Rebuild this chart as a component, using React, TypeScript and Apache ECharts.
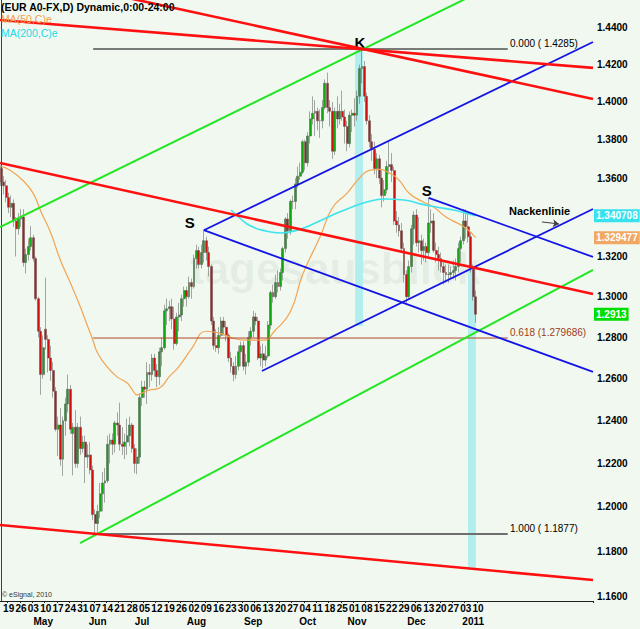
import React, { useEffect, useRef } from "react";
import * as echarts from "echarts";

// ---------- data ----------
const FIRST_DAY = "2010-04-14"; // first trading day shown
const AXIS_DAYS = 240; // trading-day slots on the time axis (data + empty future)

// daily candles [open, close, low, high], one per trading day from FIRST_DAY
const CANDLES: number[][] = [
  [1.3650, 1.3580, 1.3560, 1.3665], [1.3580, 1.3560, 1.3515, 1.3610], [1.3560, 1.3500, 1.3475, 1.3590],
  [1.3500, 1.3450, 1.3420, 1.3525], [1.3450, 1.3470, 1.3400, 1.3510], [1.3470, 1.3380, 1.3350, 1.3490], [1.3380, 1.3340, 1.3200, 1.3400], [1.3340, 1.3390, 1.3310, 1.3420],
  [1.3390, 1.3400, 1.3350, 1.3440], [1.3400, 1.3170, 1.3150, 1.3440], [1.3170, 1.3210, 1.3115, 1.3240], [1.3210, 1.3250, 1.3180, 1.3290], [1.3250, 1.3295, 1.3230, 1.3355],
  [1.3295, 1.3190, 1.3175, 1.3310], [1.3190, 1.2990, 1.2980, 1.3200], [1.2990, 1.2830, 1.2800, 1.3000], [1.2830, 1.2620, 1.2523, 1.2850], [1.2620, 1.2750, 1.2600, 1.2810],
  [1.2840, 1.2790, 1.2740, 1.3094], [1.2790, 1.2700, 1.2630, 1.2810], [1.2700, 1.2640, 1.2590, 1.2760], [1.2640, 1.2540, 1.2510, 1.2680], [1.2540, 1.2360, 1.2350, 1.2560],
  [1.2360, 1.2380, 1.2235, 1.2420], [1.2380, 1.2220, 1.2190, 1.2460], [1.2220, 1.2400, 1.2143, 1.2420], [1.2400, 1.2480, 1.2330, 1.2510], [1.2480, 1.2550, 1.2440, 1.2620],
  [1.2550, 1.2360, 1.2340, 1.2570], [1.2340, 1.2370, 1.2145, 1.2390], [1.2370, 1.2200, 1.2180, 1.2450], [1.2200, 1.2370, 1.2180, 1.2390], [1.2370, 1.2270, 1.2240, 1.2420],
  [1.2270, 1.2300, 1.2250, 1.2330], [1.2300, 1.2230, 1.2110, 1.2330], [1.2230, 1.2240, 1.2180, 1.2290], [1.2240, 1.2170, 1.2150, 1.2300], [1.2170, 1.1965, 1.1940, 1.2190],
  [1.1965, 1.1925, 1.1876, 1.1990], [1.1925, 1.1980, 1.1880, 1.2010], [1.1980, 1.2060, 1.1950, 1.2110], [1.2060, 1.2110, 1.1980, 1.2160], [1.2110, 1.2120, 1.2020, 1.2180],
  [1.2120, 1.2290, 1.2110, 1.2330], [1.2290, 1.2310, 1.2200, 1.2340], [1.2310, 1.2290, 1.2240, 1.2340], [1.2290, 1.2390, 1.2250, 1.2400], [1.2390, 1.2380, 1.2330, 1.2440],
  [1.2380, 1.2290, 1.2260, 1.2486], [1.2290, 1.2280, 1.2240, 1.2370], [1.2280, 1.2300, 1.2220, 1.2340], [1.2300, 1.2330, 1.2240, 1.2410], [1.2330, 1.2380, 1.2280, 1.2420],
  [1.2380, 1.2270, 1.2250, 1.2390], [1.2270, 1.2200, 1.2155, 1.2290], [1.2200, 1.2230, 1.2150, 1.2270], [1.2230, 1.2510, 1.2200, 1.2530], [1.2510, 1.2560, 1.2470, 1.2590],
  [1.2560, 1.2550, 1.2510, 1.2590], [1.2550, 1.2630, 1.2480, 1.2680], [1.2630, 1.2620, 1.2560, 1.2670], [1.2620, 1.2700, 1.2590, 1.2720], [1.2700, 1.2640, 1.2610, 1.2720],
  [1.2640, 1.2610, 1.2560, 1.2670], [1.2610, 1.2730, 1.2570, 1.2750], [1.2730, 1.2750, 1.2660, 1.2800], [1.2750, 1.2930, 1.2740, 1.2960], [1.2930, 1.2940, 1.2860, 1.2990],
  [1.2940, 1.2950, 1.2880, 1.2980], [1.2950, 1.2890, 1.2840, 1.2990], [1.2890, 1.2770, 1.2740, 1.2950], [1.2770, 1.2900, 1.2760, 1.2920], [1.2900, 1.2910, 1.2830, 1.2970],
  [1.2910, 1.2990, 1.2880, 1.3010], [1.2990, 1.3030, 1.2950, 1.3050], [1.3030, 1.3000, 1.2950, 1.3050], [1.3000, 1.3070, 1.2990, 1.3100], [1.3070, 1.3050, 1.2990, 1.3090],
  [1.3050, 1.3190, 1.3040, 1.3210], [1.3190, 1.3230, 1.3140, 1.3260], [1.3230, 1.3160, 1.3140, 1.3250], [1.3160, 1.3220, 1.3140, 1.3260], [1.3220, 1.3280, 1.3170, 1.3333],
  [1.3280, 1.3220, 1.3180, 1.3300], [1.3220, 1.3150, 1.3100, 1.3250], [1.3150, 1.2880, 1.2860, 1.3160], [1.2880, 1.2760, 1.2740, 1.2900], [1.2760, 1.2750, 1.2730, 1.2840],
  [1.2750, 1.2810, 1.2720, 1.2850], [1.2810, 1.2880, 1.2800, 1.2900], [1.2880, 1.2850, 1.2810, 1.2900], [1.2850, 1.2810, 1.2780, 1.2880], [1.2810, 1.2700, 1.2680, 1.2820],
  [1.2700, 1.2660, 1.2630, 1.2730], [1.2660, 1.2620, 1.2588, 1.2680], [1.2620, 1.2660, 1.2600, 1.2710], [1.2660, 1.2730, 1.2640, 1.2760], [1.2730, 1.2760, 1.2660, 1.2780],
  [1.2760, 1.2660, 1.2640, 1.2780], [1.2660, 1.2680, 1.2620, 1.2720], [1.2680, 1.2800, 1.2660, 1.2830], [1.2800, 1.2830, 1.2760, 1.2850], [1.2830, 1.2900, 1.2800, 1.2930],
  [1.2900, 1.2880, 1.2860, 1.2920], [1.2880, 1.2700, 1.2690, 1.2900], [1.2700, 1.2720, 1.2660, 1.2760], [1.2720, 1.2690, 1.2650, 1.2770], [1.2690, 1.2710, 1.2660, 1.2760],
  [1.2710, 1.2860, 1.2700, 1.2880], [1.2860, 1.3020, 1.2840, 1.3030], [1.3020, 1.3000, 1.2970, 1.3060], [1.3000, 1.3070, 1.2990, 1.3110], [1.3070, 1.3050, 1.3020, 1.3130],
  [1.3050, 1.3120, 1.3030, 1.3140], [1.3120, 1.3240, 1.3080, 1.3250], [1.3240, 1.3390, 1.3220, 1.3400], [1.3390, 1.3330, 1.3290, 1.3420], [1.3330, 1.3480, 1.3310, 1.3490],
  [1.3480, 1.3480, 1.3440, 1.3510], [1.3480, 1.3570, 1.3440, 1.3600], [1.3570, 1.3610, 1.3550, 1.3660], [1.3610, 1.3630, 1.3590, 1.3680], [1.3630, 1.3790, 1.3620, 1.3800],
  [1.3790, 1.3680, 1.3640, 1.3800], [1.3680, 1.3820, 1.3660, 1.3840], [1.3820, 1.3910, 1.3780, 1.3950], [1.3910, 1.3940, 1.3880, 1.4030], [1.3940, 1.3950, 1.3820, 1.4010],
  [1.3950, 1.3900, 1.3850, 1.3970], [1.3900, 1.3900, 1.3810, 1.3960], [1.3900, 1.3970, 1.3860, 1.4010], [1.3970, 1.4100, 1.3960, 1.4120], [1.4100, 1.3970, 1.3940, 1.4157],
  [1.3970, 1.3950, 1.3870, 1.4010], [1.3950, 1.3740, 1.3700, 1.4000], [1.3740, 1.3950, 1.3720, 1.3970], [1.3950, 1.3910, 1.3860, 1.4030], [1.3910, 1.3950, 1.3880, 1.3990],
  [1.3950, 1.3920, 1.3900, 1.4060], [1.3920, 1.3870, 1.3780, 1.3960], [1.3870, 1.3780, 1.3740, 1.3900], [1.3780, 1.3930, 1.3760, 1.3950], [1.3930, 1.3940, 1.3840, 1.3960],
  [1.3940, 1.3930, 1.3870, 1.4020], [1.3930, 1.4030, 1.3900, 1.4060], [1.4030, 1.4180, 1.3990, 1.4200], [1.4180, 1.4190, 1.4100, 1.4282], [1.4190, 1.4030, 1.4000, 1.4220],
  [1.4030, 1.3900, 1.3880, 1.4050], [1.3900, 1.3790, 1.3760, 1.3930], [1.3790, 1.3750, 1.3690, 1.3830], [1.3750, 1.3650, 1.3620, 1.3790], [1.3650, 1.3700, 1.3600, 1.3730],
  [1.3700, 1.3600, 1.3570, 1.3720], [1.3600, 1.3510, 1.3450, 1.3640], [1.3510, 1.3540, 1.3480, 1.3590], [1.3540, 1.3660, 1.3520, 1.3690], [1.3660, 1.3670, 1.3620, 1.3790],
  [1.3670, 1.3640, 1.3580, 1.3730], [1.3640, 1.3380, 1.3360, 1.3660], [1.3380, 1.3360, 1.3320, 1.3430], [1.3360, 1.3330, 1.3300, 1.3400], [1.3330, 1.3240, 1.3220, 1.3370],
  [1.3240, 1.3110, 1.3070, 1.3270], [1.3110, 1.3000, 1.2969, 1.3130], [1.3000, 1.3150, 1.2990, 1.3180], [1.3150, 1.3340, 1.3120, 1.3360], [1.3340, 1.3410, 1.3260, 1.3430],
  [1.3410, 1.3270, 1.3250, 1.3440], [1.3270, 1.3280, 1.3220, 1.3400], [1.3280, 1.3230, 1.3160, 1.3310], [1.3230, 1.3250, 1.3180, 1.3290], [1.3250, 1.3220, 1.3170, 1.3270],
  [1.3220, 1.3370, 1.3200, 1.3498], [1.3370, 1.3380, 1.3320, 1.3440], [1.3380, 1.3230, 1.3220, 1.3420], [1.3230, 1.3210, 1.3170, 1.3270], [1.3210, 1.3190, 1.3130, 1.3250],
  [1.3190, 1.3150, 1.3120, 1.3220], [1.3150, 1.3120, 1.3060, 1.3170], [1.3120, 1.3110, 1.3070, 1.3160], [1.3110, 1.3110, 1.3070, 1.3160], [1.3110, 1.3120, 1.3090, 1.3150],
  [1.3120, 1.3130, 1.3090, 1.3180], [1.3130, 1.3150, 1.3080, 1.3190], [1.3150, 1.3240, 1.3120, 1.3270], [1.3240, 1.3280, 1.3170, 1.3300], [1.3280, 1.3380, 1.3260, 1.3440],
  [1.3380, 1.3350, 1.3290, 1.3440], [1.3350, 1.3300, 1.3270, 1.3420], [1.3300, 1.3140, 1.3120, 1.3320], [1.3140, 1.3000, 1.2980, 1.3160], [1.3000, 1.2913, 1.2872, 1.3030],
];

// moving averages: [trading-day index, value]
const MA50: number[][] = [
  [0, 1.3660], [3, 1.3645], [9, 1.3585], [13, 1.3520], [16, 1.3430], [20, 1.3320], [24, 1.3180],
  [28, 1.3068], [32, 1.2950], [35, 1.2853], [37, 1.2790], [39, 1.2724], [43, 1.2655], [47, 1.2608],
  [51, 1.2580], [53, 1.2548], [55, 1.2523], [57, 1.2532], [60, 1.2546], [64, 1.2556], [68, 1.2610],
  [72, 1.2660], [77, 1.2744], [83, 1.2830], [88, 1.2822], [94, 1.2795], [99, 1.2787], [106, 1.2787],
  [111, 1.2836], [117, 1.2925], [122, 1.3110], [129, 1.3298], [134, 1.3446], [140, 1.3523],
  [145, 1.3600], [149, 1.3640], [153, 1.3645], [157, 1.3627], [161, 1.3590], [165, 1.3523],
  [170, 1.3482], [175, 1.3451], [180, 1.3400], [186, 1.3360], [189, 1.3334], [192, 1.329477],
];
const MA200: number[][] = [
  [93, 1.3436], [97, 1.3390], [101, 1.3354], [107, 1.3329], [113, 1.3319], [120, 1.3334],
  [128, 1.3375], [135, 1.3416], [141, 1.3446], [148, 1.3477], [155, 1.3492], [163, 1.3487],
  [170, 1.3466], [176, 1.3451], [183, 1.3436], [188, 1.3420], [192, 1.340708],
];

// hand-drawn trend lines: [[day index, price], [day index, price]]
const RED_LINES: number[][][] = [
  [[-0.5, 1.4444], [239.5, 1.4183]],
  [[40, 1.4599], [239.5, 1.4016]],
  [[-0.5, 1.3679], [239.5, 1.3013]],
  [[-0.5, 1.1918], [239.5, 1.1671]],
];
const GREEN_LINES: number[][][] = [
  [[-0.5, 1.3349], [239.5, 1.4911]],
  [[31.9, 1.1836], [239.5, 1.3133]],
];
const BLUE_LINES: number[][][] = [
  [[82, 1.3333], [239.5, 1.4323]],
  [[82, 1.3333], [239.5, 1.2633]],
  [[105.5, 1.2637], [239.5, 1.3441]],
  [[173, 1.3498], [239.5, 1.3198]],
];

// Fibonacci retracement
const FIB_PRICES = [1.4285, 1.279686, 1.1877];
const FIB_LABELS = ["0.000 ( 1.4285)", "0.618 (1.279686)", "1.000 ( 1.1877)"];
const FIB_SPAN = [37.2, 205];

// highlighted time bands: [day from, price top, day to, price bottom]
const BANDS: number[][] = [
  [143.2, 1.4282, 146.4, 1.2856],
  [188.9, 1.3133, 192.1, 1.1722],
];

const Y_TICKS = [1.44, 1.42, 1.4, 1.38, 1.36, 1.32, 1.3, 1.28, 1.26, 1.24, 1.22, 1.2, 1.18, 1.16];
const Y_RANGE = [1.1578, 1.4554];
const MONTH_LABELS: string[][] = [
  ["2010-05-07", "May"], ["2010-06-08", "Jun"], ["2010-07-02", "Jul"], ["2010-08-03", "Aug"],
  ["2010-09-03", "Sep"], ["2010-10-05", "Oct"], ["2010-11-02", "Nov"], ["2010-12-06", "Dec"],
  ["2011-01-06", "2011"],
];

// ---------- chart ----------
const FONT = "'Liberation Sans', Arial, sans-serif";
const L = Math.log;

function tradingDays(start: string, count: number): string[] {
  const out: string[] = [];
  const d = new Date(start + "T00:00:00Z");
  while (out.length < count) {
    const wd = d.getUTCDay();
    if (wd !== 0 && wd !== 6) out.push(d.toISOString().slice(0, 10));
    d.setUTCDate(d.getUTCDate() + 1);
  }
  return out;
}

function buildOption() {
  const dates = tradingDays(FIRST_DAY, AXIS_DAYS);
  const lastLabelIdx = CANDLES.length;
  const isLabelDay = (index: number, value: string) =>
    index <= lastLabelIdx && new Date(value + "T00:00:00Z").getUTCDay() === 1;
  const monthMap = new Map(MONTH_LABELS.map(([d, m]) => [d, m] as [string, string]));
  const lastClose = CANDLES[CANDLES.length - 1][1];
  const ma50Last = MA50[MA50.length - 1][1];
  const ma200Last = MA200[MA200.length - 1][1];
  const xEnd = AXIS_DAYS - 0.5;

  const lineSeries = (pts: number[][], color: string, width: number, z: number) => ({
    type: "line",
    xAxisIndex: 2,
    data: pts.map(([i, p]) => [i, L(p)]),
    symbol: "none",
    lineStyle: { color, width },
    clip: true,
    silent: true,
    z,
  });

  const textPoint = (coord: number[], text: string, label: any) => ({
    coord: [coord[0], L(coord[1])],
    symbol: "circle",
    symbolSize: 0,
    label: { show: true, formatter: text, fontFamily: FONT, ...label },
  });

  const priceTag = (value: number, text: string, bg: string) =>
    textPoint([xEnd, value], text, {
      position: "right",
      distance: 1,
      color: "#ffffff",
      fontWeight: "bold",
      fontSize: 10,
      backgroundColor: bg,
      padding: [2, 2, 1, 2],
    });

  const fibColors = ["#000000", "#b04828", "#6e6e6e"];
  const fibWidths = [1, 1, 2];
  const fibTextColors = ["#000000", "#a03a1a", "#000000"];

  const series: any[] = [
    {
      type: "line",
      xAxisIndex: 2,
      data: [],
      z: 1,
      silent: true,
      markArea: {
        silent: true,
        itemStyle: { color: "#b3eeee" },
        data: BANDS.map(([i1, p1, i2, p2]) => [{ coord: [i1, L(p1)] }, { coord: [i2, L(p2)] }]),
      },
    },
    {
      type: "candlestick",
      xAxisIndex: 0,
      data: CANDLES.map((c) => c.map(L)),
      barWidth: 2.4,
      z: 2,
      silent: true,
      itemStyle: {
        color: "#10a810",
        color0: "#cc1010",
        borderColor: "#555555",
        borderColor0: "#555555",
        borderWidth: 0.5,
      },
    },
    {
      type: "line",
      xAxisIndex: 2,
      data: MA50.map(([i, p]) => [i, L(p)]),
      smooth: 0.5,
      symbol: "none",
      lineStyle: { color: "#f2a452", width: 1.2 },
      z: 3,
      silent: true,
    },
    {
      type: "line",
      xAxisIndex: 2,
      data: MA200.map(([i, p]) => [i, L(p)]),
      smooth: 0.5,
      symbol: "none",
      lineStyle: { color: "#3ee4ec", width: 1.6 },
      z: 3,
      silent: true,
    },
    ...FIB_PRICES.map((p, k) => ({
      ...lineSeries([[FIB_SPAN[0], p], [FIB_SPAN[1], p]], fibColors[k], fibWidths[k], 4),
      markPoint: {
        silent: true,
        data: [
          textPoint([205.9, p], FIB_LABELS[k], {
            position: "right",
            distance: 0,
            offset: [0, -6],
            fontSize: 10,
            color: fibTextColors[k],
          }),
        ],
      },
    })),
    ...GREEN_LINES.map((pts) => lineSeries(pts, "#22e622", 2, 5)),
    ...BLUE_LINES.map((pts) => lineSeries(pts, "#1414e6", 1.8, 5)),
    ...RED_LINES.map((pts) => lineSeries(pts, "#ff1010", 2.6, 6)),
    {
      type: "line",
      xAxisIndex: 2,
      data: [],
      z: 8,
      clip: false,
      silent: true,
      markPoint: {
        silent: true,
        data: [
          textPoint([146, 1.4282], "K", { position: "top", distance: 0, offset: [-2, 0], fontSize: 15, fontWeight: "bold", color: "#000" }),
          textPoint([82, 1.3333], "S", { position: "top", distance: 0, offset: [-14, 0], fontSize: 15, fontWeight: "bold", color: "#000" }),
          textPoint([173, 1.3498], "S", { position: "top", distance: 0, offset: [-2, 0], fontSize: 15, fontWeight: "bold", color: "#000" }),
          textPoint([205.5, 1.3431], "Nackenlinie", { position: "right", distance: 0, fontSize: 11, fontWeight: "bold", color: "#000" }),
          priceTag(ma200Last, ma200Last.toFixed(6), "#36e2ee"),
          priceTag(ma50Last, ma50Last.toFixed(6), "#f0a862"),
          priceTag(lastClose, lastClose.toFixed(4), "#00dd00"),
        ],
      },
      markLine: {
        silent: true,
        symbol: ["none", "arrow"],
        symbolSize: 6,
        lineStyle: { color: "#404040", width: 1, type: "solid" },
        label: { show: false },
        data: [[{ coord: [218.8, L(1.3375)] }, { coord: [225.7, L(1.3365)] }]],
      },
    },
  ];

  return {
    animation: false,
    backgroundColor: "#f0f8f0",
    textStyle: { fontFamily: FONT },
    grid: { left: 0, right: 47, top: 0, bottom: 28, containLabel: false },
    xAxis: [
      {
        type: "category",
        data: dates,
        boundaryGap: true,
        position: "bottom",
        axisLine: { show: true, lineStyle: { color: "#202020", width: 1 } },
        axisTick: { show: true, interval: isLabelDay, length: 2, lineStyle: { color: "#202020" } },
        axisLabel: {
          interval: isLabelDay,
          formatter: (v: string) => v.slice(8, 10),
          color: "#000",
          fontWeight: "bold",
          fontSize: 10,
          fontFamily: FONT,
          margin: 2,
        },
        splitLine: { show: false },
      },
      {
        type: "category",
        data: dates,
        boundaryGap: true,
        position: "bottom",
        offset: 13,
        axisLine: { show: false },
        axisTick: { show: false },
        axisLabel: {
          interval: (_i: number, v: string) => monthMap.has(v),
          formatter: (v: string) => monthMap.get(v) || "",
          color: "#000",
          fontWeight: "bold",
          fontSize: 10,
          fontFamily: FONT,
          margin: 2,
        },
        splitLine: { show: false },
      },
      { type: "value", min: -0.5, max: xEnd, show: false },
    ],
    yAxis: {
      type: "value",
      position: "right",
      min: L(Y_RANGE[0]),
      max: L(Y_RANGE[1]),
      splitLine: { show: false },
      axisLine: { show: true, lineStyle: { color: "#404040", width: 1 } },
      axisTick: { show: false },
      axisLabel: {
        customValues: Y_TICKS.map(L),
        formatter: (v: number) => Math.exp(v).toFixed(4),
        color: "#000",
        fontWeight: "bold",
        fontSize: 10,
        fontFamily: FONT,
        margin: 4,
      },
    },
    graphic: [
      {
        type: "text",
        left: 190,
        top: 246,
        z: 0,
        silent: true,
        style: { text: "tagesausblick", font: `bold 44px ${FONT}`, fill: "rgba(120,140,120,0.09)" },
      },
      {
        type: "text",
        left: 1,
        top: 1,
        z: 100,
        style: { text: "(EUR A0-FX,D) Dynamic,0:00-24:00", font: `bold 10.5px ${FONT}`, fill: "#000" },
      },
      {
        type: "text",
        left: 1,
        top: 13,
        z: 100,
        style: { text: "MA(50,C)e", font: `10.5px ${FONT}`, fill: "#f0a050" },
      },
      {
        type: "text",
        left: 1,
        top: 27,
        z: 100,
        style: { text: "MA(200,C)e", font: `10.5px ${FONT}`, fill: "#22d8e6" },
      },
      {
        type: "text",
        left: 2,
        top: 591,
        z: 100,
        style: { text: "© eSignal, 2010", font: `7px ${FONT}`, fill: "#333" },
      },
    ],
    series,
  };
}

export default function App() {
  const ref = useRef<HTMLDivElement>(null);
  useEffect(() => {
    if (!ref.current) return;
    const chart = echarts.init(ref.current, null, { renderer: "svg", width: 640, height: 629 });
    chart.setOption(buildOption() as any);
    return () => chart.dispose();
  }, []);
  return (
    <div
      ref={ref}
      style={{ position: "fixed", left: 0, top: 0, width: 640, height: 629 }}
    />
  );
}
